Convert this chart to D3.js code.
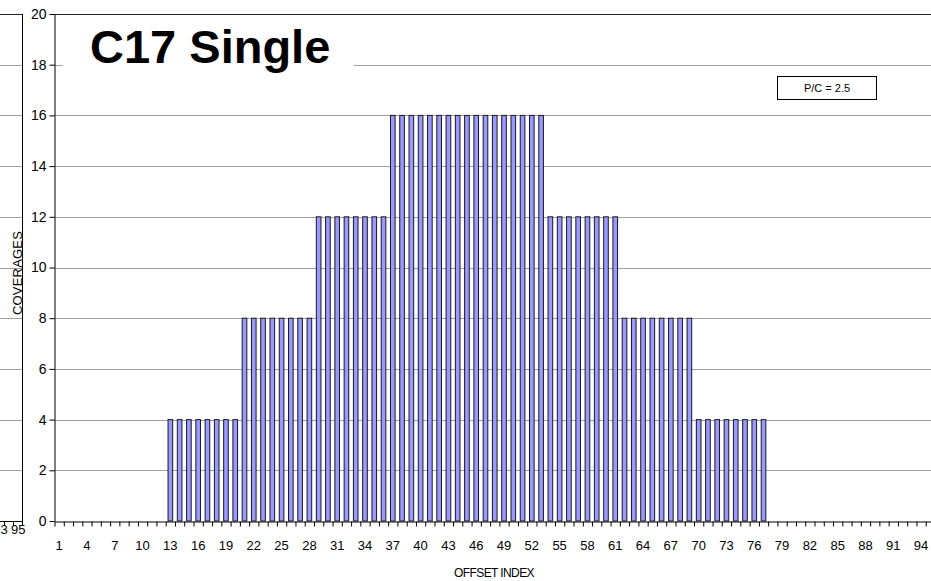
<!DOCTYPE html>
<html>
<head>
<meta charset="utf-8">
<script src="https://cdn.jsdelivr.net/npm/d3@7"></script>
<style>
  body { margin: 0; background: #fff; }
  svg { display: block; font-family: Arial, "Liberation Sans", sans-serif; }
</style>
</head>
<body>
<div id="chart"></div>
<script>
// Offset index categories 1..95
const offsets = d3.range(1, 96);
// Coverage per offset index
const coverages = [
    0, 0, 0, 0, 0, 0, 0, 0, 0, 0, 0, 0,
    4, 4, 4, 4, 4, 4, 4, 4,
    8, 8, 8, 8, 8, 8, 8, 8,
    12, 12, 12, 12, 12, 12, 12, 12,
    16, 16, 16, 16, 16, 16, 16, 16, 16, 16, 16, 16, 16, 16, 16, 16, 16,
    12, 12, 12, 12, 12, 12, 12, 12,
    8, 8, 8, 8, 8, 8, 8, 8,
    4, 4, 4, 4, 4, 4, 4, 4,
    0, 0, 0, 0, 0, 0, 0, 0, 0, 0, 0, 0, 0, 0, 0, 0, 0, 0
];
const yTicks = [0, 2, 4, 6, 8, 10, 12, 14, 16, 18, 20];
const xLabels = offsets.filter((d, i) => i % 3 === 0);
// partial neighbouring chart cut off at the left edge
const strayLabels = [93, 95];

const W = 931, H = 581;
const svg = d3.select("#chart").append("svg")
    .attr("width", W)
    .attr("height", H);

const x = d3.scaleBand()
    .domain(offsets)
    .range([54.5, 935])
    .paddingInner(0.5)
    .paddingOuter(0.25);

const xEdge = d3.scaleLinear()
    .domain([0.5, 95.5])
    .range([54.5, 935]);

const y = d3.scaleLinear()
    .domain([0, 20])
    .range([521, 14]);

// --- stray chart on the left
const strayX = d3.scaleLinear().domain([92.5, 95.5]).range([-4, 22.7]);
svg.append("g")
    .selectAll("line")
    .data(yTicks.filter(d => d > 0 && d < 20))
    .enter().append("line")
    .attr("x1", 0).attr("x2", 22.7)
    .attr("y1", d => Math.round(y(d)) + 0.5)
    .attr("y2", d => Math.round(y(d)) + 0.5)
    .attr("stroke", "#a0a0a0");
svg.append("line")
    .attr("x1", 0).attr("x2", 23).attr("y1", 14.5).attr("y2", 14.5)
    .attr("stroke", "#222");
svg.append("line")
    .attr("x1", 22.5).attr("x2", 22.5).attr("y1", 14).attr("y2", 521)
    .attr("stroke", "#000");
svg.append("line")
    .attr("x1", 0).attr("x2", 23).attr("y1", 521.5).attr("y2", 521.5)
    .attr("stroke", "#000");
svg.append("g")
    .selectAll("line")
    .data([93.5, 94.5, 95.5])
    .enter().append("line")
    .attr("x1", d => Math.round(strayX(d)) - 0.5)
    .attr("x2", d => Math.round(strayX(d)) - 0.5)
    .attr("y1", 521).attr("y2", 526)
    .attr("stroke", "#000");
svg.append("g")
    .selectAll("text")
    .data(strayLabels)
    .enter().append("text")
    .attr("x", d => strayX(d))
    .attr("y", 534)
    .attr("text-anchor", "middle")
    .style("font-size", "13px")
    .text(d => d);

// --- gridlines
svg.append("g")
    .selectAll("line")
    .data(yTicks.filter(d => d > 0 && d < 20))
    .enter().append("line")
    .attr("x1", 54).attr("x2", W)
    .attr("y1", d => Math.round(y(d)) + 0.5)
    .attr("y2", d => Math.round(y(d)) + 0.5)
    .attr("stroke", "#a0a0a0");

// top border
svg.append("line")
    .attr("x1", 54).attr("x2", W)
    .attr("y1", 14.5).attr("y2", 14.5)
    .attr("stroke", "#222");

// --- bars
svg.append("g")
    .selectAll("rect")
    .data(offsets.map((o, i) => ({ o, v: coverages[i] })).filter(d => d.v > 0))
    .enter().append("rect")
    .attr("x", d => x(d.o))
    .attr("y", d => y(d.v))
    .attr("width", x.bandwidth())
    .attr("height", d => y(0) - y(d.v))
    .attr("fill", "#9999ff")
    .attr("stroke", "#1a1a1a")
    .attr("stroke-width", 1);

// --- y axis
const yAxis = svg.append("g")
    .attr("transform", "translate(54.5,0)")
    .call(d3.axisLeft(y).tickValues(yTicks).tickSize(5).tickPadding(3).tickSizeOuter(0));
yAxis.select(".domain").attr("stroke", "#000");
yAxis.selectAll("line").attr("stroke", "#000");
yAxis.selectAll("text")
    .style("font-size", "14px")
    .style("font-family", "Arial, 'Liberation Sans', sans-serif")
    .attr("fill", "#000");

// --- x axis: ticks at category boundaries
const xTickAxis = svg.append("g")
    .attr("transform", "translate(0,521.5)")
    .call(d3.axisBottom(xEdge).tickValues(d3.range(0.5, 96, 1)).tickSize(5).tickFormat("").tickSizeOuter(0));
xTickAxis.select(".domain").attr("stroke", "#000");
xTickAxis.selectAll("line").attr("stroke", "#000");

// labels every third category
svg.append("g")
    .attr("transform", "translate(0,521.5)")
    .call(d3.axisBottom(x).tickValues(xLabels).tickSize(0).tickPadding(19))
    .call(g => g.select(".domain").remove())
    .selectAll("text")
    .style("font-size", "13px")
    .style("font-family", "Arial, 'Liberation Sans', sans-serif")
    .attr("fill", "#000");

// --- axis titles
svg.append("text")
    .attr("x", 494)
    .attr("y", 577)
    .attr("text-anchor", "middle")
    .style("font-size", "12px")
    .style("letter-spacing", "-0.6px")
    .text("OFFSET INDEX");

svg.append("text")
    .attr("transform", "translate(22,273) rotate(-90)")
    .attr("text-anchor", "middle")
    .style("font-size", "13px")
    .style("letter-spacing", "0.2px")
    .text("COVERAGES");

// --- title with white backing
svg.append("rect")
    .attr("x", 63).attr("y", 22)
    .attr("width", 291).attr("height", 54)
    .attr("fill", "#fff");
svg.append("text")
    .attr("x", 90)
    .attr("y", 63)
    .style("font-size", "47px")
    .style("font-weight", "bold")
    .text("C17 Single");

// --- P/C note
svg.append("rect")
    .attr("x", 777.5).attr("y", 76.5)
    .attr("width", 99).attr("height", 23)
    .attr("fill", "#fff")
    .attr("stroke", "#000");
svg.append("text")
    .attr("x", 827)
    .attr("y", 92)
    .attr("text-anchor", "middle")
    .style("font-size", "11px")
    .text("P/C = 2.5");
</script>
</body>
</html>
